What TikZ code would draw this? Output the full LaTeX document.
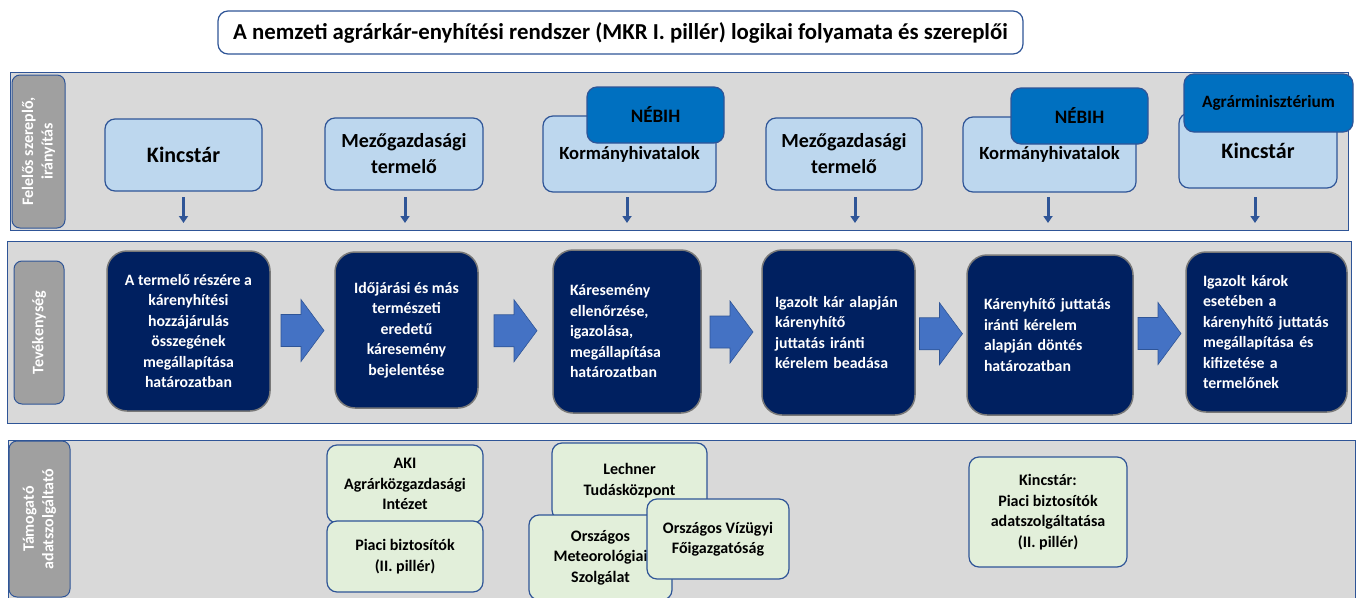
\documentclass[tikz,border=0pt]{standalone}
\usepackage{fontspec}
\setmainfont{Carlito}
\usetikzlibrary{arrows.meta,calc}
\definecolor{bandgray}{RGB}{217,217,217}
\definecolor{bordblue}{RGB}{47,85,151}
\definecolor{tabgray}{RGB}{160,160,160}
\definecolor{actorblue}{RGB}{189,215,238}
\definecolor{leadblue}{RGB}{0,112,192}
\definecolor{actnavy}{RGB}{0,32,96}
\definecolor{actedge}{RGB}{120,120,120}
\definecolor{flowblue}{RGB}{68,114,196}
\definecolor{datagreen}{RGB}{226,239,218}
\begin{document}
\begin{tikzpicture}[x=1pt,y=-1pt,font=\bfseries,
	band/.style={draw=bordblue,line width=1pt,fill=bandgray},
	tab/.style={draw=bordblue,line width=1pt,fill=tabgray,rounded corners=8pt,inner sep=0pt,text=white,rotate=90,align=center,font=\fontsize{16}{19.5}\selectfont\bfseries},
	box/.style={draw=bordblue,line width=1.2pt,rounded corners=10pt,inner sep=0pt,align=center},
	actor/.style={box,fill=actorblue,font=\fontsize{20}{26}\selectfont\bfseries},
	lead/.style={box,fill=leadblue,font=\fontsize{19}{22}\selectfont\bfseries},
	act/.style={draw=actedge,line width=1.5pt,fill=actnavy,text=white,rounded corners=20pt,inner sep=0pt,font=\fontsize{15.8}{20.5}\selectfont\bfseries},
	data/.style={box,fill=datagreen,font=\fontsize{16}{20.5}\selectfont\bfseries},
	downarr/.style={draw=bordblue,line width=3pt,-{Triangle[width=9pt,length=7pt]}},
	flow/.style={draw=bordblue,line width=.6pt,fill=flowblue}]
	\useasboundingbox (0,0) rectangle (1357,597);
	% title
	\node[box,draw=bordblue,fill=white,minimum width=805pt,minimum height=43pt,font=\fontsize{22.8}{26}\selectfont\bfseries] (title) at (620.5,32.5) {A nemzeti agrárkár-enyhítési rendszer (MKR I. pillér) logikai folyamata és szereplői};
	% bands
	\draw[band] (10,72) rectangle (1348,230);
	\draw[band] (7,241) rectangle (1351,423);
	\draw[band] (8,440) rectangle (1355,640);
	\node[tab,minimum width=153pt,minimum height=53pt] (tab1) at (38.5,151.5) {Felelős szereplő,\\irányítás};
	\node[tab,minimum width=143pt,minimum height=50pt] (tab2) at (39,332.5) {Tevékenység};
	\node[tab,minimum width=156pt,minimum height=61pt] (tab3) at (39.5,519) {Támogató\\adatszolgáltató};
	% responsible actors
	\node[actor,minimum width=157pt,minimum height=72pt,font=\fontsize{22}{26}\selectfont\bfseries] (kin1) at (183.5,155) {Kincstár};
	\node[actor,minimum width=158pt,minimum height=72pt] (ter1) at (404,154) {Mezőgazdasági\\termelő};
	\node[actor,minimum width=173pt,minimum height=76pt,font=\fontsize{18.6}{22}\selectfont\bfseries] (kor1) at (629.5,154) {Kormányhivatalok};
	\node[lead,minimum width=137pt,minimum height=56pt] (neb1) at (655.5,115) {NÉBIH};
	\node[actor,minimum width=156pt,minimum height=72pt] (ter2) at (844,154) {Mezőgazdasági\\termelő};
	\node[actor,minimum width=173pt,minimum height=75pt,font=\fontsize{18.6}{22}\selectfont\bfseries] (kor2) at (1049.5,154.5) {Kormányhivatalok};
	\node[lead,minimum width=137pt,minimum height=56pt] (neb2) at (1079.5,116) {NÉBIH};
	\node[actor,minimum width=158pt,minimum height=75pt,font=\fontsize{22}{26}\selectfont\bfseries] (kin2) at (1258,150.5) {Kincstár};
	\node[lead,minimum width=169pt,minimum height=58pt,font=\fontsize{17.3}{20}\selectfont\bfseries] (agr) at (1268.5,103) {Agrárminisztérium};
	\foreach \n/\dx in {kin1/0,ter1/1,kor1/-2.5,ter2/11,kor2/-1.5,kin2/-3}
		\draw[downarr] ([xshift=\dx pt]\n.south |- 0,197) -- ([xshift=\dx pt]\n.south |- 0,223);
	% activities
	\node[act,minimum width=163pt,minimum height=160pt,align=center] (act1) at (188.5,331) {A termelő részére a\\kárenyhítési\\hozzájárulás\\összegének\\megállapítása\\határozatban};
	\node[act,minimum width=143pt,minimum height=156pt,align=center] (act2) at (406.5,330) {Időjárási és más\\természeti\\eredetű\\káresemény\\bejelentése};
	\node[act,minimum width=148pt,minimum height=163pt,text width=114pt,align=left] (act3) at (627,331.5) {Káresemény\\ellenőrzése,\\igazolása,\\megállapítása\\határozatban};
	\node[act,minimum width=153pt,minimum height=165pt,text width=127pt,align=left] (act4) at (838.5,332.5) {Igazolt kár alapján\\kárenyhítő\\juttatás iránti\\kérelem beadása};
	\node[act,minimum width=166pt,minimum height=160pt,text width=132pt,align=left] (act5) at (1050,335) {Kárenyhítő juttatás\\iránti kérelem\\alapján döntés\\határozatban};
	\node[act,minimum width=161pt,minimum height=160pt,text width=127pt,align=left] (act6) at (1266.5,332) {Igazolt károk\\esetében a\\kárenyhítő juttatás\\megállapítása és\\kifizetése a\\termelőnek};
	\foreach \a/\b in {act1/act2,act2/act3,act3/act4,act4/act5,act5/act6}{
		\coordinate (f-\a) at ($(\a.east)!0.5!(\b.west)$ |- 0,334);
		\draw[flow] ($(f-\a)+(-21.5,-16)$) -- ++(20,0) -- ++(0,-15) -- ($(f-\a)+(21.5,0)$)
			-- ($(f-\a)+(-1.5,31)$) -- ++(0,-15) -- ++(-20,0) -- cycle;
	}
	% data providers
	\node[data,minimum width=156pt,minimum height=78pt] (aki) at (405,484) {AKI\\Agrárközgazdasági\\Intézet};
	\node[data,minimum width=156pt,minimum height=71pt] (pia) at (405,556.5) {Piaci biztosítók\\(II. pillér)};
	\node[data,minimum width=155pt,minimum height=77pt,text depth=4pt] (lech) at (629.5,481.5) {Lechner\\Tudásközpont};
	\node[data,minimum width=143pt,minimum height=85pt] (omsz) at (600.5,557.5) {Országos\\Meteorológiai\\Szolgálat};
	\node[data,minimum width=142pt,minimum height=80pt] (ovf) at (718,539) {Országos Vízügyi\\Főigazgatóság};
	\node[data,minimum width=158pt,minimum height=110pt] (kin3) at (1048,512) {Kincstár:\\Piaci biztosítók\\adatszolgáltatása\\(II. pillér)};
\end{tikzpicture}
\end{document}
